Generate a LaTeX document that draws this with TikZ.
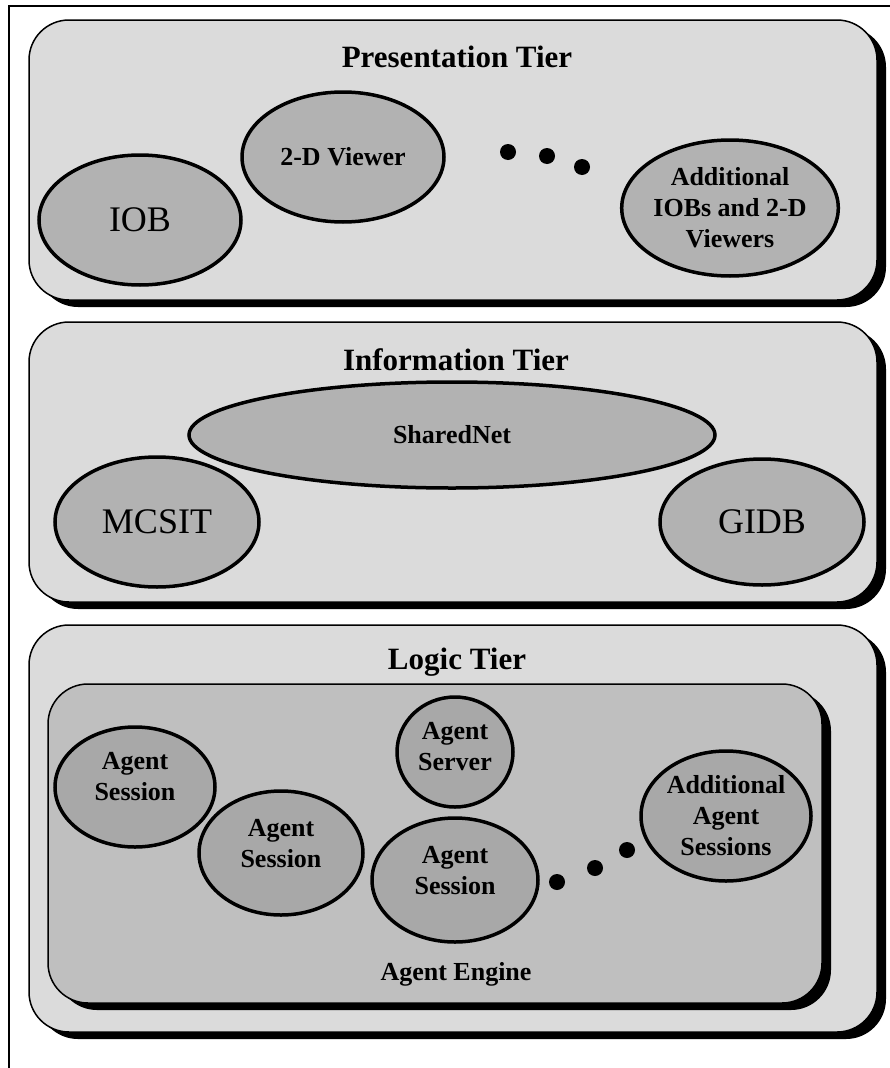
\documentclass[tikz,border=0pt]{standalone}
\usepackage{xcolor}
\usepackage{fontspec}
\setmainfont{Liberation Serif}
\usepackage{tikz}
\usetikzlibrary{shapes, shadows, positioning}

\definecolor{tierfill}{gray}{0.86}
\definecolor{ovalfill}{gray}{0.70}
\definecolor{enginefill}{gray}{0.75}
\definecolor{sessfill}{gray}{0.66}

\begin{document}
\begin{tikzpicture}[x=1pt, y=-1pt,
        tier/.style={draw, line width=1.5pt, rounded corners=40pt, fill=tierfill,
            drop shadow={shadow xshift=9pt, shadow yshift=-7pt, fill=black, opacity=1}},
        oval/.style={draw, ellipse, line width=3.5pt, fill=ovalfill, inner sep=0pt, align=center,
            font=\fontsize{26}{31}\selectfont\bfseries},
        bigoval/.style={oval, font=\fontsize{36}{40}\selectfont},
        sess/.style={oval, fill=sessfill},
        sesstext/.style={align=center, font=\fontsize{26}{31}\selectfont\bfseries},
        tiertitle/.style={font=\fontsize{31}{36}\selectfont\bfseries},
        englabel/.style={font=\fontsize{26}{31}\selectfont\bfseries}]
            \useasboundingbox (0,0) rectangle (890,1068);
            \fill[white] (0,0) rectangle (890,1068);
            \draw[line width=2.5pt] (9,1068) -- (9,6) -- (890,6);

            % presentation tier
            \node[tier, minimum width=848pt, minimum height=280pt] (pres) at (453,160) {};
            \node[tiertitle] (prestitle) at (457,57) {Presentation Tier};
            \node[bigoval, minimum width=202pt, minimum height=130pt] (iob) at (140,220) {IOB};
            \node[oval, minimum width=202pt, minimum height=130pt] (viewer) at (343,157) {2-D Viewer};
            \node[oval, minimum width=206pt, minimum height=136pt] (moreiob) at (730,208) {Additional\\IOBs and 2-D\\Viewers};
            \foreach \p in {(508,152), (547,156), (582,167)}
                \fill \p circle (8);

            % information tier
            \node[tier, minimum width=848pt, minimum height=280pt] (info) at (453,462) {};
            \node[tiertitle] (infotitle) at (456,360) {Information Tier};
            \node[oval, minimum width=526pt, minimum height=106pt] (sharednet) at (452,435) {SharedNet};
            \node[bigoval, minimum width=204pt, minimum height=130pt] (mcsit) at (157,522) {MCSIT};
            \node[bigoval, minimum width=204pt, minimum height=126pt] (gidb) at (762,522) {GIDB};

            % logic tier
            \node[tier, minimum width=848pt, minimum height=407pt] (logic) at (453,828.5) {};
            \node[tiertitle] (logictitle) at (457,662) {Logic Tier};
            \node[tier, fill=enginefill, minimum width=774pt, minimum height=319pt] (engine) at (435,843.5) {};
            \node[englabel] (enginetitle) at (456,974) {Agent Engine};
            \node[sess, minimum width=160pt, minimum height=120pt] (sess1) at (135,787) {};
            \node[sesstext] (sess1text) at ([yshift=10pt]sess1.center) {Agent\\Session};
            \node[sess, minimum width=164pt, minimum height=124pt] (sess2) at (281,853) {};
            \node[sesstext] (sess2text) at ([yshift=9pt]sess2.center) {Agent\\Session};
            \node[sess, minimum width=116pt, minimum height=110pt] (server) at (455,752) {};
            \node[sesstext] (servertext) at ([yshift=5pt]server.center) {Agent\\Server};
            \node[sess, minimum width=166pt, minimum height=124pt] (sess3) at (455,880) {};
            \node[sesstext] (sess3text) at ([yshift=9pt]sess3.center) {Agent\\Session};
            \node[sess, minimum width=170pt, minimum height=130pt] (moresess) at (726,816) {Additional\\Agent\\Sessions};
            \foreach \p in {(557,882), (595,868), (627,850)}
                \fill \p circle (8);
        \end{tikzpicture}
\end{document}
